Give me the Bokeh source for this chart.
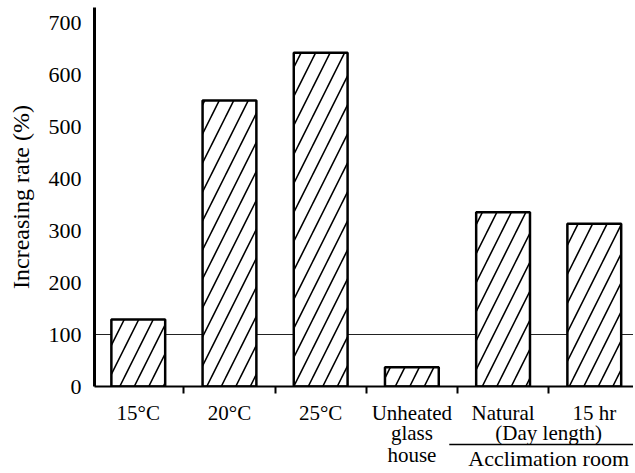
from bokeh.plotting import figure
from bokeh.layouts import column
from bokeh.models import FixedTicker, Span, Range1d
from bokeh.core.properties import value
from bokeh.embed import file_html
from bokeh.resources import INLINE

# ---- data ----
categories = ["15°C", "20°C", "25°C", "Unheated", "Natural", "15 hr"]
extra_lines = {3: ["glass", "house"]}
values = [129, 550, 642, 37, 335, 313]
y_ticks = [0, 100, 200, 300, 400, 500, 600, 700]
reference_level = 100
group_members = [4, 5]
group_sub_label = "(Day length)"
group_label = "Acclimation room"
y_title = "Increasing rate (%)"

FONT = "Liberation Serif"
W = 633
H_TOTAL = 472
BL, BT = 94, 7
FRAME_H = 379
BB = 14
H_TOP = BT + FRAME_H + BB
H_BOT = H_TOTAL - H_TOP
Y_MAX = 729
X0, X1 = -0.48, 5.43

xs = list(range(len(categories)))
x_range = Range1d(X0, X1)

# ---------------- chart ----------------
p = figure(width=W, height=H_TOP, output_backend="svg", toolbar_location=None,
           x_range=x_range, y_range=Range1d(0, Y_MAX),
           min_border_left=BL, min_border_bottom=BB, min_border_top=BT,
           min_border_right=0)
p.outline_line_color = None
p.xgrid.visible = False
p.ygrid.visible = False
p.background_fill_color = "white"
p.border_fill_color = "white"

p.add_layout(Span(location=reference_level, dimension="width", line_color="#222222",
                  line_width=1.2, level="underlay"))

p.vbar(x=xs, top=values, width=0.59, fill_color="white", line_color="black",
       line_width=2.5, hatch_pattern="/", hatch_scale=29, hatch_weight=1.6,
       hatch_color="black")

ya = p.yaxis[0]
ya.ticker = FixedTicker(ticks=y_ticks)
ya.major_tick_out = 0
ya.major_tick_in = 0
ya.minor_tick_out = 0
ya.minor_tick_in = 0
ya.axis_line_width = 3
ya.major_label_standoff = 13
ya.major_label_text_font = FONT
ya.major_label_text_font_size = "22px"
ya.major_label_text_color = "black"
ya.axis_label = y_title
ya.axis_label_text_font = FONT
ya.axis_label_text_font_size = "24px"
ya.axis_label_text_font_style = "normal"
ya.axis_label_text_color = "black"
ya.axis_label_standoff = 12

# x axis: only (unlabelled) tick marks at the category boundaries
xa = p.xaxis[0]
xa.ticker = FixedTicker(ticks=[], minor_ticks=[i + 0.5 for i in xs[:-1]])
xa.major_tick_out = 0
xa.major_tick_in = 0
xa.minor_tick_out = 7
xa.minor_tick_in = 0
xa.minor_tick_line_width = 2
xa.minor_tick_line_color = "black"
xa.axis_line_width = 2

# ---------------- category labels strip ----------------
q = figure(width=W, height=H_BOT, output_backend="svg", toolbar_location=None,
           x_range=x_range, y_range=Range1d(0, H_BOT),
           x_axis_location=None, y_axis_location=None,
           min_border_left=BL, min_border_bottom=0, min_border_top=0,
           min_border_right=0)
q.outline_line_color = None
q.grid.visible = False
q.background_fill_color = "white"
q.border_fill_color = "white"


def below(d):
    # distance d (px) below the x axis -> strip coordinate
    return H_BOT + BB - d


groups = {"21px": ([], [], []), "22px": ([], [], [])}


def add_text(x, d, text, size="21px"):
    gx_, gy_, gt_ = groups[size]
    gx_.append(x)
    gy_.append(below(d))
    gt_.append(text)


for i, c in enumerate(categories):
    add_text(xs[i], 26, c)
    for k, t in enumerate(extra_lines.get(i, [])):
        add_text(xs[i], 46 + 22 * k, t)

gx = sum(xs[g] for g in group_members) / len(group_members)
add_text(gx, 46, group_sub_label)
add_text(gx, 72, group_label, size="22px")

for size, (lx, ly, lt) in groups.items():
    q.text(x=lx, y=ly, text=lt, text_align="center", text_baseline="middle",
           text_font=value(FONT), text_font_size=size, text_color="black")

uy = below(58)
q.segment(x0=[xs[group_members[0]] - 0.59], y0=[uy], x1=[X1], y1=[uy],
          line_color="black", line_width=1.6)

layout = column(p, q, spacing=0)
open("out.html", "w").write(file_html(layout, INLINE))
